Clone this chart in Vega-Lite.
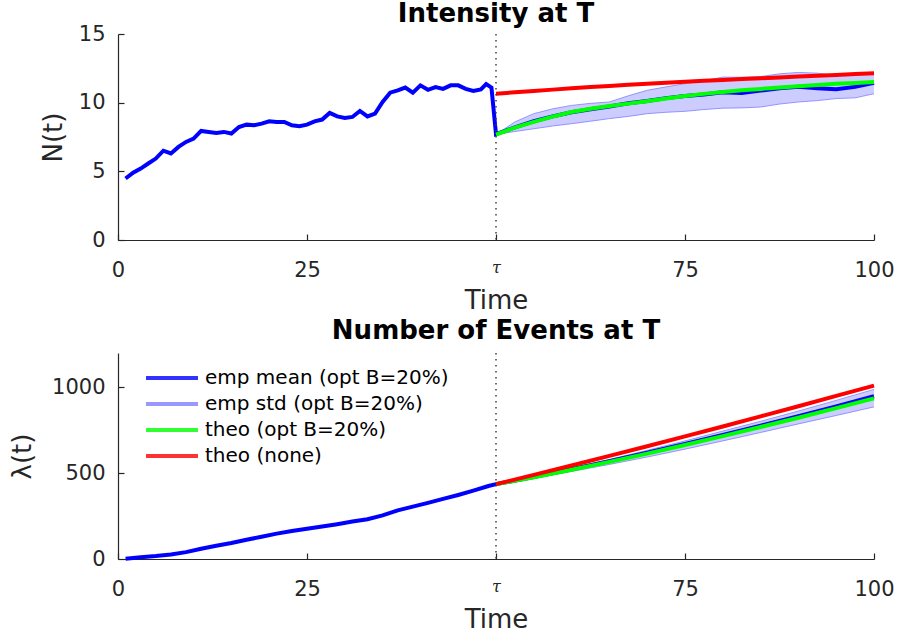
{
  "$schema": "https://vega.github.io/schema/vega-lite/v6.json",
  "background": "white",
  "autosize": "pad",
  "padding": {"left": 9, "top": 1, "right": 0, "bottom": 0},
  "bounds": "flush",
  "spacing": 113,
  "resolve": {"scale": {"color": "independent"}, "legend": {"color": "independent"}},
  "config": {
    "font": "DejaVu Sans",
    "view": {"stroke": null},
    "axis": {
      "grid": false,
      "domainColor": "#262626",
      "tickColor": "#262626",
      "labelColor": "#262626",
      "titleColor": "#262626",
      "labelFontSize": 21,
      "labelFlush": false,
      "titleFontSize": 26,
      "titleFontWeight": "normal",
      "tickSize": -6,
      "domainWidth": 1.2,
      "tickWidth": 1.2
    },
    "axisX": {"labelPadding": 25, "titlePadding": 7},
    "axisY": {"labelPadding": 19, "titlePadding": 12, "format": "d"},
    "title": {"fontSize": 26, "fontWeight": "bold", "color": "#000000", "offset": -4}
  },
  "datasets": {
    "intensity": [
      {"t": 1, "mean": 4.48}, {"t": 2, "mean": 4.9}, {"t": 3, "mean": 5.2}, {"t": 4, "mean": 5.57},
      {"t": 5, "mean": 5.93}, {"t": 6, "mean": 6.5}, {"t": 7, "mean": 6.3}, {"t": 8, "mean": 6.78},
      {"t": 9, "mean": 7.14}, {"t": 10, "mean": 7.38}, {"t": 11, "mean": 7.94}, {"t": 12, "mean": 7.87},
      {"t": 13, "mean": 7.8}, {"t": 14, "mean": 7.87}, {"t": 15, "mean": 7.75}, {"t": 16, "mean": 8.23},
      {"t": 17, "mean": 8.4}, {"t": 18, "mean": 8.35}, {"t": 19, "mean": 8.47}, {"t": 20, "mean": 8.64},
      {"t": 21, "mean": 8.6}, {"t": 22, "mean": 8.6}, {"t": 23, "mean": 8.35}, {"t": 24, "mean": 8.28},
      {"t": 25, "mean": 8.4}, {"t": 26, "mean": 8.64}, {"t": 27, "mean": 8.77}, {"t": 28, "mean": 9.25},
      {"t": 29, "mean": 9.0}, {"t": 30, "mean": 8.88}, {"t": 31, "mean": 8.96}, {"t": 32, "mean": 9.4},
      {"t": 33, "mean": 9.0}, {"t": 34, "mean": 9.2}, {"t": 35, "mean": 10.05}, {"t": 36, "mean": 10.73},
      {"t": 37, "mean": 10.9}, {"t": 38, "mean": 11.1}, {"t": 39, "mean": 10.73}, {"t": 40, "mean": 11.26},
      {"t": 41, "mean": 10.94}, {"t": 42, "mean": 11.14}, {"t": 43, "mean": 11.0}, {"t": 44, "mean": 11.26},
      {"t": 45, "mean": 11.26}, {"t": 46, "mean": 11.0}, {"t": 47, "mean": 10.85}, {"t": 48, "mean": 10.97},
      {"t": 48.7, "mean": 11.35}, {"t": 49.4, "mean": 11.1},
      {"t": 50, "mean": 7.7, "opt": 7.68, "none": 10.65, "lo": 7.68, "hi": 7.68},
      {"t": 52.5, "mean": 8.2, "opt": 8.18, "none": 10.75, "lo": 7.9, "hi": 8.6},
      {"t": 55, "mean": 8.65, "opt": 8.6, "none": 10.85, "lo": 8.1, "hi": 9.2},
      {"t": 57.5, "mean": 9.0, "opt": 8.98, "none": 10.95, "lo": 8.3, "hi": 9.55},
      {"t": 60, "mean": 9.3, "opt": 9.32, "none": 11.05, "lo": 8.47, "hi": 9.8},
      {"t": 62.5, "mean": 9.52, "opt": 9.55, "none": 11.14, "lo": 8.65, "hi": 9.95},
      {"t": 65, "mean": 9.72, "opt": 9.75, "none": 11.22, "lo": 8.84, "hi": 10.05},
      {"t": 67.5, "mean": 9.95, "opt": 9.93, "none": 11.3, "lo": 9.0, "hi": 10.5},
      {"t": 70, "mean": 10.12, "opt": 10.1, "none": 11.38, "lo": 9.2, "hi": 10.9},
      {"t": 72.5, "mean": 10.33, "opt": 10.3, "none": 11.45, "lo": 9.3, "hi": 11.15},
      {"t": 75, "mean": 10.48, "opt": 10.48, "none": 11.52, "lo": 9.37, "hi": 11.38},
      {"t": 77.5, "mean": 10.6, "opt": 10.64, "none": 11.59, "lo": 9.5, "hi": 11.6},
      {"t": 80, "mean": 10.75, "opt": 10.78, "none": 11.65, "lo": 9.6, "hi": 11.86},
      {"t": 82.5, "mean": 10.7, "opt": 10.9, "none": 11.72, "lo": 9.62, "hi": 11.85},
      {"t": 85, "mean": 10.88, "opt": 11.0, "none": 11.78, "lo": 9.68, "hi": 11.9},
      {"t": 87.5, "mean": 11.05, "opt": 11.1, "none": 11.84, "lo": 9.9, "hi": 12.1},
      {"t": 90, "mean": 11.15, "opt": 11.2, "none": 11.9, "lo": 10.05, "hi": 12.2},
      {"t": 92.5, "mean": 11.05, "opt": 11.29, "none": 11.96, "lo": 10.15, "hi": 12.15},
      {"t": 95, "mean": 10.98, "opt": 11.37, "none": 12.02, "lo": 10.3, "hi": 11.98},
      {"t": 97.5, "mean": 11.15, "opt": 11.44, "none": 12.08, "lo": 10.35, "hi": 12.05},
      {"t": 100, "mean": 11.45, "opt": 11.5, "none": 12.15, "lo": 10.65, "hi": 12.2}
    ],
    "counts": [
      {"t": 1, "mean": 2}, {"t": 3, "mean": 10}, {"t": 5, "mean": 17}, {"t": 7, "mean": 26},
      {"t": 9, "mean": 40}, {"t": 11, "mean": 60}, {"t": 13, "mean": 77}, {"t": 15, "mean": 93},
      {"t": 17, "mean": 112}, {"t": 19, "mean": 130}, {"t": 21, "mean": 148}, {"t": 23, "mean": 163},
      {"t": 25, "mean": 176}, {"t": 27, "mean": 189}, {"t": 29, "mean": 203}, {"t": 31, "mean": 218},
      {"t": 33, "mean": 232}, {"t": 35, "mean": 254}, {"t": 37, "mean": 283}, {"t": 39, "mean": 305},
      {"t": 41, "mean": 327}, {"t": 43, "mean": 350}, {"t": 45, "mean": 373}, {"t": 47, "mean": 398},
      {"t": 49, "mean": 425},
      {"t": 50, "mean": 436, "opt": 436, "none": 436, "lo": 436, "hi": 436},
      {"t": 55, "mean": 478, "opt": 476, "none": 490, "lo": 471, "hi": 482},
      {"t": 60, "mean": 523, "opt": 520, "none": 545, "lo": 510, "hi": 530},
      {"t": 65, "mean": 570, "opt": 566, "none": 601, "lo": 551, "hi": 580},
      {"t": 70, "mean": 619, "opt": 614, "none": 657, "lo": 594, "hi": 633},
      {"t": 75, "mean": 670, "opt": 664, "none": 714, "lo": 640, "hi": 688},
      {"t": 80, "mean": 723, "opt": 716, "none": 772, "lo": 688, "hi": 745},
      {"t": 85, "mean": 777, "opt": 769, "none": 831, "lo": 737, "hi": 802},
      {"t": 90, "mean": 832, "opt": 823, "none": 890, "lo": 787, "hi": 862},
      {"t": 95, "mean": 889, "opt": 879, "none": 950, "lo": 836, "hi": 924},
      {"t": 100, "mean": 948, "opt": 936, "none": 1010, "lo": 886, "hi": 988}
    ]
  },
  "vconcat": [
    {
      "width": 756,
      "height": 206,
      "title": {"text": "Intensity at T"},
      "data": {"name": "intensity"},
      "encoding": {
        "x": {
          "field": "t", "type": "quantitative",
          "scale": {"domain": [0, 100], "nice": false},
          "axis": {
            "title": "Time",
            "values": [0, 25, 50, 75, 100],
            "labelExpr": "datum.value == 50 ? 'τ' : datum.label",
            "labelFont": {"condition": {"test": "datum.value == 50", "value": "DejaVu Serif"}, "value": "DejaVu Sans"},
            "labelFontStyle": {"condition": {"test": "datum.value == 50", "value": "italic"}, "value": "normal"},
            "labelFontSize": {"condition": {"test": "datum.value == 50", "value": 16}, "value": 21}
          }
        }
      },
      "layer": [
        {
          "mark": {"type": "area", "color": "#0000ff", "opacity": 0.2},
          "encoding": {
            "y": {"field": "lo", "type": "quantitative", "scale": {"domain": [0, 15], "nice": false},
                  "axis": {"title": "N(t)", "values": [0, 5, 10, 15]}},
            "y2": {"field": "hi"}
          }
        },
        {
          "mark": {"type": "line", "strokeWidth": 1, "opacity": 0.8},
          "encoding": {"y": {"field": "lo", "type": "quantitative"},
                       "color": {"datum": "emp std (opt B=20%)", "type": "nominal", "legend": null,
                                 "scale": {"domain": ["emp mean (opt B=20%)", "emp std (opt B=20%)", "theo (opt B=20%)", "theo (none)"],
                                           "range": ["#0000ff", "#7f7fff", "#00ff00", "#ff0000"]}}}
        },
        {
          "mark": {"type": "line", "strokeWidth": 1, "opacity": 0.8},
          "encoding": {"y": {"field": "hi", "type": "quantitative"},
                       "color": {"datum": "emp std (opt B=20%)", "type": "nominal", "legend": null}}
        },
        {
          "mark": {"type": "line", "strokeWidth": 4},
          "encoding": {"y": {"field": "mean", "type": "quantitative"},
                       "color": {"datum": "emp mean (opt B=20%)", "type": "nominal", "legend": null}}
        },
        {
          "mark": {"type": "line", "strokeWidth": 4},
          "encoding": {"y": {"field": "opt", "type": "quantitative"},
                       "color": {"datum": "theo (opt B=20%)", "type": "nominal", "legend": null}}
        },
        {
          "mark": {"type": "line", "strokeWidth": 4},
          "encoding": {"y": {"field": "none", "type": "quantitative"},
                       "color": {"datum": "theo (none)", "type": "nominal", "legend": null}}
        },
        {
          "data": {"values": [{"t": 50}]},
          "mark": {"type": "rule", "color": "#404040", "strokeWidth": 1.5, "strokeDash": [1.5, 4.5]},
          "encoding": {}
        }
      ]
    },
    {
      "width": 756,
      "height": 206,
      "title": {"text": "Number of Events at T", "offset": 8},
      "data": {"name": "counts"},
      "encoding": {
        "x": {
          "field": "t", "type": "quantitative",
          "scale": {"domain": [0, 100], "nice": false},
          "axis": {
            "title": "Time",
            "values": [0, 25, 50, 75, 100],
            "labelExpr": "datum.value == 50 ? 'τ' : datum.label",
            "labelFont": {"condition": {"test": "datum.value == 50", "value": "DejaVu Serif"}, "value": "DejaVu Sans"},
            "labelFontStyle": {"condition": {"test": "datum.value == 50", "value": "italic"}, "value": "normal"},
            "labelFontSize": {"condition": {"test": "datum.value == 50", "value": 16}, "value": 21}
          }
        }
      },
      "layer": [
        {
          "mark": {"type": "area", "color": "#0000ff", "opacity": 0.2},
          "encoding": {
            "y": {"field": "lo", "type": "quantitative", "scale": {"domain": [0, 1200], "nice": false},
                  "axis": {"title": "λ(t)", "values": [0, 500, 1000], "titlePadding": 16}},
            "y2": {"field": "hi"}
          }
        },
        {
          "mark": {"type": "line", "strokeWidth": 1, "opacity": 0.8},
          "encoding": {"y": {"field": "lo", "type": "quantitative"},
                       "color": {"datum": "emp std (opt B=20%)", "type": "nominal",
                                 "scale": {"domain": ["emp mean (opt B=20%)", "emp std (opt B=20%)", "theo (opt B=20%)", "theo (none)"],
                                           "range": ["#0000ff", "#7f7fff", "#00ff00", "#ff0000"]},
                                 "legend": {
                                   "title": null,
                                   "orient": "none",
                                   "legendX": 26,
                                   "legendY": 12,
                                   "padding": 0,
                                   "symbolType": "stroke",
                                   "symbolSize": 2700,
                                   "symbolStrokeWidth": 4,
                                   "labelFontSize": 20,
                                   "labelLimit": 0,
                                   "labelColor": "#000000",
                                   "labelOffset": 5,
                                   "rowPadding": 0,
                                   "clipHeight": 26,
                                   "encode": {"symbols": {"update": {"strokeWidth": {"signal": "datum.value == 'emp std (opt B=20%)' ? 1 : 4"}}}}
                                 }}}
        },
        {
          "mark": {"type": "line", "strokeWidth": 1, "opacity": 0.8},
          "encoding": {"y": {"field": "hi", "type": "quantitative"},
                       "color": {"datum": "emp std (opt B=20%)", "type": "nominal"}}
        },
        {
          "mark": {"type": "line", "strokeWidth": 4},
          "encoding": {"y": {"field": "mean", "type": "quantitative"},
                       "color": {"datum": "emp mean (opt B=20%)", "type": "nominal"}}
        },
        {
          "mark": {"type": "line", "strokeWidth": 4},
          "encoding": {"y": {"field": "opt", "type": "quantitative"},
                       "color": {"datum": "theo (opt B=20%)", "type": "nominal"}}
        },
        {
          "mark": {"type": "line", "strokeWidth": 4},
          "encoding": {"y": {"field": "none", "type": "quantitative"},
                       "color": {"datum": "theo (none)", "type": "nominal"}}
        },
        {
          "data": {"values": [{"t": 50}]},
          "mark": {"type": "rule", "color": "#404040", "strokeWidth": 1.5, "strokeDash": [1.5, 4.5]},
          "encoding": {}
        }
      ]
    }
  ]
}
